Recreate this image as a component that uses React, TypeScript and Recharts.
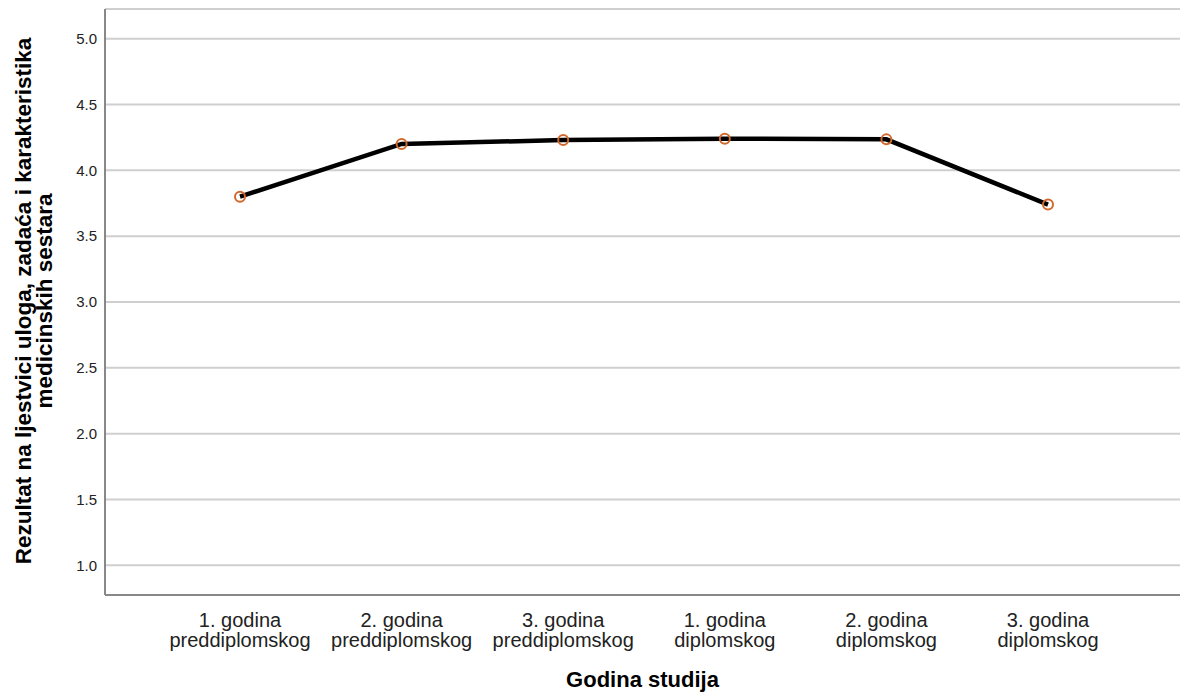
import React from "react";
import { LineChart, Line, XAxis, YAxis, CartesianGrid, Label } from "recharts";

const categoriesLine1 = ["1. godina", "2. godina", "3. godina", "1. godina", "2. godina", "3. godina"];
const categoriesLine2 = ["preddiplomskog", "preddiplomskog", "preddiplomskog", "diplomskog", "diplomskog", "diplomskog"];
const scores = [3.8, 4.2, 4.23, 4.24, 4.235, 3.74];
const yTicks = [1.0, 1.5, 2.0, 2.5, 3.0, 3.5, 4.0, 4.5, 5.0];

const data = categoriesLine1.map((c, i) => ({
  key: c + "|" + categoriesLine2[i],
  value: scores[i],
}));

const FONT = "'Liberation Sans', Arial, sans-serif";

const XTick = (props: any) => {
  const { x, y, payload } = props;
  const [a, b] = String(payload.value).split("|");
  return (
    <g transform={`translate(${x},${y})`}>
      <text textAnchor="middle" fontFamily={FONT} fontSize={20} fill="#222">
        <tspan x={0} y={24}>{a}</tspan>
        <tspan x={0} y={44}>{b}</tspan>
      </text>
    </g>
  );
};

const YLabel = (props: any) => {
  const { viewBox } = props;
  const cy = viewBox.y + viewBox.height / 2 - 1;
  return (
    <text
      transform={`translate(0, ${cy}) rotate(-90)`}
      textAnchor="middle"
      fontFamily={FONT}
      fontSize={22.5}
      fontWeight="bold"
      fill="#000"
    >
      <tspan x={0} y={31}>Rezultat na ljestvici uloga, zadaća i karakteristika</tspan>
      <tspan x={0} y={52}>medicinskih sestara</tspan>
    </text>
  );
};

export default function App() {
  return (
    <div style={{ position: "absolute", left: 0, top: 0, background: "#fff" }}>
      <LineChart
        width={1180}
        height={697}
        data={data}
        margin={{ top: 9, right: 0, bottom: 0, left: 0 }}
      >
        <CartesianGrid horizontal vertical={false} stroke="#cfcfcf" strokeWidth={2} />
        <XAxis
          dataKey="key"
          tick={<XTick />}
          tickLine={false}
          axisLine={{ stroke: "#888", strokeWidth: 2 }}
          height={102}
          interval={0}
          padding={{ left: 135, right: 132 }}
        >
          <Label
            value="Godina studija"
            position="insideBottom"
            offset={10}
            style={{ fontFamily: FONT, fontSize: 22, fontWeight: "bold", fill: "#000" }}
          />
        </XAxis>
        <YAxis
          type="number"
          domain={[0.775, 5.225]}
          ticks={yTicks}
          tickFormatter={(v: number) => v.toFixed(1)}
          tickLine={false}
          axisLine={{ stroke: "#888", strokeWidth: 2 }}
          width={105}
          tick={{ fontFamily: FONT, fontSize: 15, fill: "#222" }}
          label={<YLabel />}
        />
        <Line
          type="linear"
          dataKey="value"
          stroke="#000"
          strokeWidth={4.5}
          isAnimationActive={false}
          dot={{ r: 5, stroke: "#d2692c", strokeWidth: 2, fill: "none" }}
          activeDot={false}
        />
      </LineChart>
    </div>
  );
}
